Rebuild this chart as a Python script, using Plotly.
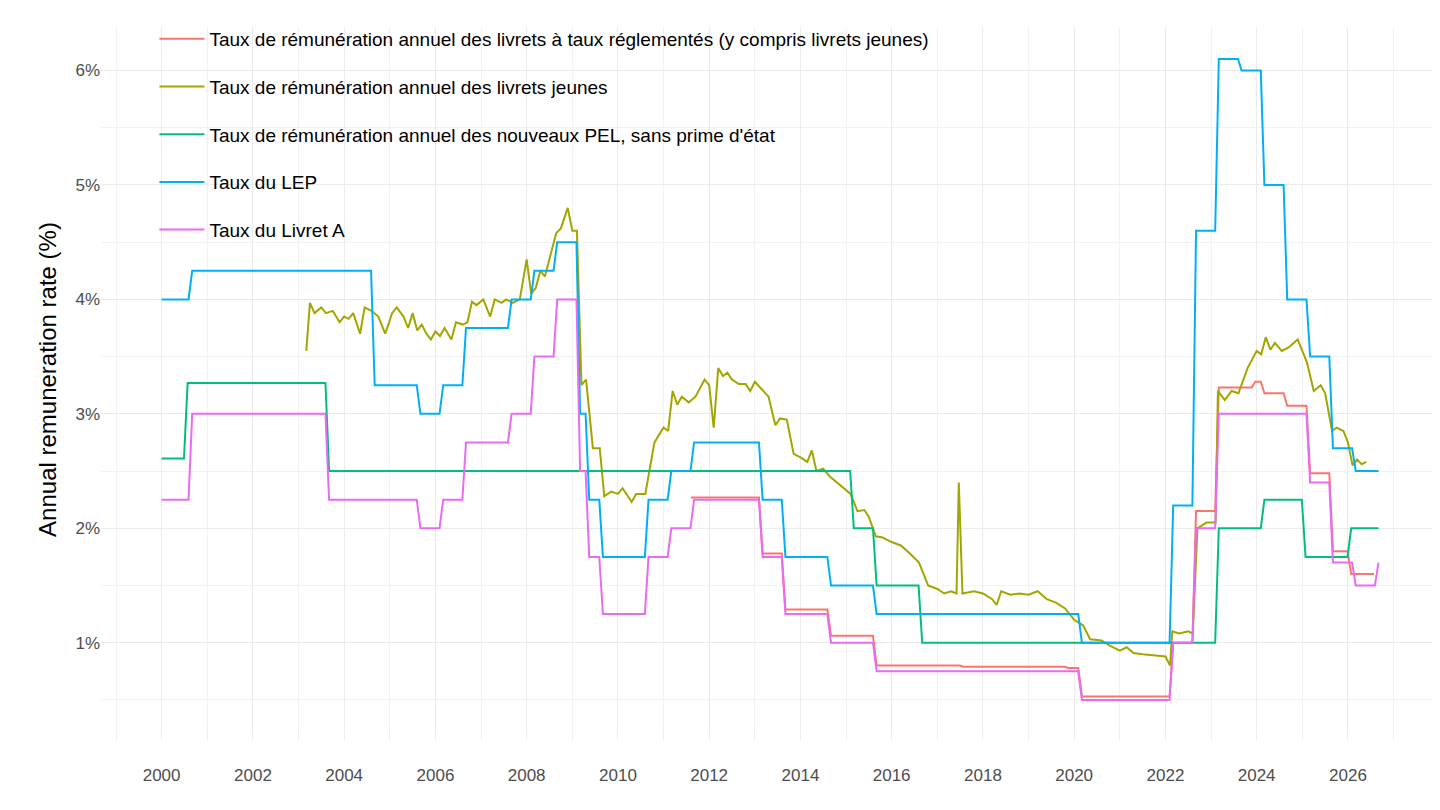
import datetime as dt
import plotly.graph_objects as go

# change points (decimal year, rate %) for step series
livret_a = [(2000.0, 2.25), (2000.6, 3.0), (2003.6, 2.25), (2005.6, 2.0), (2006.1, 2.25), (2006.6, 2.75),
            (2007.6, 3.0), (2008.1, 3.5), (2008.6, 4.0), (2009.1, 2.5), (2009.3, 1.75), (2009.6, 1.25),
            (2010.6, 1.75), (2011.1, 2.0), (2011.6, 2.25), (2013.1, 1.75), (2013.6, 1.25), (2014.6, 1.0),
            (2015.6, 0.75), (2020.1, 0.5), (2022.1, 1.0), (2022.6, 2.0), (2023.1, 3.0), (2025.1, 2.4),
            (2025.6, 1.7), (2026.1, 1.5), (2026.6, 1.7)]
lep = [(2000.0, 4.0), (2000.6, 4.25), (2004.6, 3.25), (2005.6, 3.0), (2006.1, 3.25), (2006.6, 3.75),
       (2007.6, 4.0), (2008.1, 4.25), (2008.6, 4.5), (2009.1, 3.0), (2009.3, 2.25), (2009.6, 1.75),
       (2010.6, 2.25), (2011.1, 2.5), (2011.6, 2.75), (2013.1, 2.25), (2013.6, 1.75), (2014.6, 1.5),
       (2015.6, 1.25), (2020.1, 1.0), (2022.1, 2.2), (2022.6, 4.6), (2023.1, 6.1), (2023.6, 6.0),
       (2024.1, 5.0), (2024.6, 4.0), (2025.1, 3.5), (2025.6, 2.7), (2026.1, 2.5), (2026.6, 2.5)]
pel = [(2000.0, 2.61), (2000.5, 3.27), (2003.6, 2.5), (2015.1, 2.0), (2015.6, 1.5), (2016.6, 1.0),
       (2023.1, 2.0), (2024.1, 2.25), (2025.0, 1.75), (2026.0, 2.0), (2026.6, 2.0)]
reglementes = [(2011.6, 2.27), (2013.1, 1.78), (2013.6, 1.29), (2014.6, 1.06), (2015.6, 0.8), (2017.5, 0.79),
               (2019.8, 0.78), (2020.1, 0.53), (2022.1, 1.0), (2022.6, 2.15), (2023.1, 3.23), (2023.9, 3.28),
               (2024.1, 3.18), (2024.6, 3.07), (2025.1, 2.48), (2025.6, 1.8), (2026.0, 1.6), (2026.5, 1.6)]
jeunes = [(2003.17, 3.55), (2003.25, 3.97), (2003.35, 3.88), (2003.5, 3.93), (2003.6, 3.88), (2003.75, 3.9),
          (2003.9, 3.8), (2004.0, 3.85), (2004.1, 3.83), (2004.2, 3.88), (2004.35, 3.7), (2004.45, 3.93),
          (2004.6, 3.9), (2004.75, 3.85), (2004.9, 3.7), (2005.05, 3.88), (2005.15, 3.93), (2005.3, 3.85),
          (2005.4, 3.75), (2005.5, 3.88), (2005.6, 3.73), (2005.7, 3.78), (2005.8, 3.7), (2005.9, 3.65),
          (2006.0, 3.72), (2006.1, 3.68), (2006.2, 3.75), (2006.35, 3.65), (2006.45, 3.8), (2006.6, 3.78),
          (2006.7, 3.8), (2006.8, 3.98), (2006.9, 3.95), (2007.05, 4.0), (2007.2, 3.85), (2007.3, 4.0),
          (2007.45, 3.97), (2007.55, 4.0), (2007.7, 3.97), (2007.85, 4.0), (2008.0, 4.35), (2008.1, 4.05),
          (2008.2, 4.1), (2008.3, 4.25), (2008.4, 4.2), (2008.5, 4.35), (2008.65, 4.58), (2008.75, 4.62),
          (2008.9, 4.8), (2009.0, 4.6), (2009.1, 4.6), (2009.2, 3.25), (2009.3, 3.3), (2009.45, 2.7),
          (2009.6, 2.7), (2009.7, 2.28), (2009.85, 2.32), (2010.0, 2.3), (2010.1, 2.35), (2010.3, 2.23),
          (2010.4, 2.3), (2010.6, 2.3), (2010.8, 2.75), (2011.0, 2.88), (2011.1, 2.85), (2011.2, 3.2),
          (2011.3, 3.08), (2011.4, 3.15), (2011.55, 3.1), (2011.7, 3.15), (2011.9, 3.3), (2012.0, 3.25),
          (2012.1, 2.88), (2012.2, 3.4), (2012.3, 3.33), (2012.4, 3.36), (2012.5, 3.3), (2012.65, 3.26),
          (2012.8, 3.26), (2012.9, 3.2), (2013.0, 3.28), (2013.3, 3.15), (2013.45, 2.9), (2013.55, 2.96),
          (2013.7, 2.95), (2013.85, 2.65), (2014.0, 2.62), (2014.15, 2.58), (2014.25, 2.68), (2014.35, 2.5),
          (2014.5, 2.52), (2014.65, 2.45), (2014.8, 2.4), (2015.0, 2.33), (2015.1, 2.3), (2015.25, 2.15),
          (2015.4, 2.16), (2015.5, 2.1), (2015.65, 1.93), (2015.8, 1.92), (2016.0, 1.88), (2016.2, 1.85),
          (2016.4, 1.78), (2016.6, 1.7), (2016.8, 1.5), (2017.0, 1.47), (2017.15, 1.43), (2017.3, 1.45),
          (2017.42, 1.43), (2017.47, 2.4), (2017.55, 1.43), (2017.8, 1.45), (2018.0, 1.43), (2018.2, 1.38),
          (2018.3, 1.33), (2018.4, 1.45), (2018.6, 1.42), (2018.8, 1.43), (2019.0, 1.42), (2019.2, 1.45),
          (2019.4, 1.38), (2019.6, 1.35), (2019.8, 1.3), (2020.0, 1.2), (2020.2, 1.15), (2020.35, 1.03),
          (2020.6, 1.02), (2020.8, 0.97), (2021.0, 0.93), (2021.15, 0.96), (2021.3, 0.91), (2021.5, 0.9),
          (2021.7, 0.89), (2022.0, 0.88), (2022.1, 0.8), (2022.15, 1.1), (2022.3, 1.08), (2022.5, 1.1),
          (2022.6, 1.08), (2022.7, 2.0), (2022.9, 2.05), (2023.1, 2.05), (2023.15, 3.2), (2023.3, 3.12),
          (2023.45, 3.2), (2023.6, 3.18), (2023.8, 3.4), (2024.0, 3.55), (2024.1, 3.52), (2024.2, 3.67),
          (2024.3, 3.56), (2024.4, 3.62), (2024.55, 3.55), (2024.7, 3.58), (2024.9, 3.65), (2025.1, 3.45),
          (2025.25, 3.2), (2025.4, 3.25), (2025.5, 3.18), (2025.65, 2.85), (2025.75, 2.88), (2025.9, 2.85),
          (2026.0, 2.75), (2026.1, 2.55), (2026.2, 2.6), (2026.3, 2.56), (2026.4, 2.58)]


def to_date(y):
    year = int(y)
    return dt.datetime(year, 1, 1) + dt.timedelta(days=(y - year) * 365.25)


def steps(points):
    # hold each level until the next change, with a one-month ramp like monthly data
    xs, ys = [], []
    for i, (t, v) in enumerate(points):
        if i > 0:
            xs.append(to_date(t - 0.01))
            ys.append(points[i - 1][1])
        xs.append(to_date(t + 0.07) if i > 0 else to_date(t))
        ys.append(v)
    return xs, ys


fig = go.Figure()
series = [
    ("Taux de rémunération annuel des livrets à taux réglementés (y compris livrets jeunes)", reglementes, "#F8766D", True),
    ("Taux de rémunération annuel des livrets jeunes", jeunes, "#A3A500", False),
    ("Taux de rémunération annuel des nouveaux PEL, sans prime d'état", pel, "#00BF7D", True),
    ("Taux du LEP", lep, "#00B0F6", True),
    ("Taux du Livret A", livret_a, "#E76BF3", True),
]
for i, (name, pts, color, is_step) in enumerate(series):
    if is_step:
        xs, ys = steps(pts)
    else:
        xs = [to_date(t) for t, v in pts]
        ys = [v for t, v in pts]
    fig.add_trace(go.Scatter(x=xs, y=[v / 100 for v in ys], mode="lines", name=name,
                             legendgroup=f"g{i}", line=dict(color=color, width=2)))

fig.update_xaxes(range=[to_date(1998.67), to_date(2027.93)],
                 tickvals=[dt.datetime(y, 1, 1) for y in range(2000, 2027, 2)],
                 ticktext=[str(y) for y in range(2000, 2027, 2)],
                 gridcolor="#ebebeb", gridwidth=1.3, showline=False, zeroline=False,
                 ticks="outside", ticklen=6, tickcolor="#ebebeb", ticklabelstandoff=22,
                 minor=dict(tickvals=[dt.datetime(y, 1, 1) for y in range(1999, 2028)], gridcolor="#f2f2f2",
                            ticks="outside", ticklen=6, tickcolor="#ebebeb"),
                 tickfont=dict(size=17, color="#4d4d4d"))
fig.update_yaxes(range=[0.0022, 0.0638], tickvals=[0.01, 0.02, 0.03, 0.04, 0.05, 0.06],
                 tickformat=".0%", gridcolor="#ebebeb", gridwidth=1.3, zeroline=False,
                 minor=dict(tickvals=[0.005, 0.015, 0.025, 0.035, 0.045, 0.055], gridcolor="#f2f2f2"),
                 title=dict(text="Annual remuneration rate (%)", font=dict(size=24, color="black"), standoff=12),
                 tickfont=dict(size=17, color="#4d4d4d"))
fig.update_layout(
    width=1440, height=810, plot_bgcolor="white", paper_bgcolor="white",
    font=dict(family="Liberation Sans, Arial, sans-serif"),
    margin=dict(l=93, r=12, t=15, b=86),
    legend=dict(x=0.04, y=1.01, xanchor="left", yanchor="top", bgcolor="rgba(0,0,0,0)",
                font=dict(size=19, color="black"), tracegroupgap=20, itemwidth=45),
)
fig.write_html("out.html")
